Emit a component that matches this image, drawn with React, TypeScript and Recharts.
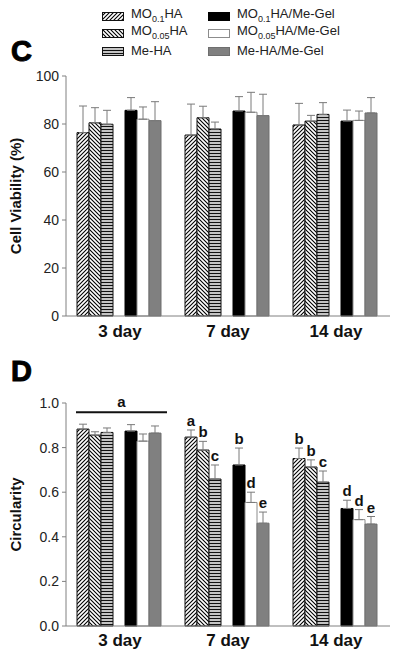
import React from "react";
import { BarChart, Bar, XAxis, YAxis, ErrorBar, LabelList } from "recharts";

// groups on the x axis
const days = ["3 day", "7 day", "14 day"];

// panel C - cell viability (%), mean and upper SD
const viabMo01Ha = [76.4, 75.4, 79.6];
const viabMo005Ha = [80.5, 82.6, 81.2];
const viabMeHa = [79.9, 77.9, 84.0];
const viabMo01Gel = [85.7, 85.4, 81.2];
const viabMo005Gel = [82.0, 84.9, 81.5];
const viabMeGel = [81.4, 83.5, 84.6];

const viabErrMo01Ha = [11.1, 12.9, 9.0];
const viabErrMo005Ha = [6.3, 4.8, 2.4];
const viabErrMeHa = [5.8, 2.9, 4.9];
const viabErrMo01Gel = [5.3, 6.0, 4.6];
const viabErrMo005Gel = [5.1, 8.3, 3.9];
const viabErrMeGel = [7.9, 8.9, 6.4];

// panel D - circularity
const circMo01Ha = [0.883, 0.847, 0.751];
const circMo005Ha = [0.856, 0.789, 0.713];
const circMeHa = [0.868, 0.659, 0.645];
const circMo01Gel = [0.874, 0.722, 0.527];
const circMo005Gel = [0.829, 0.554, 0.477];
const circMeGel = [0.865, 0.461, 0.457];

const circErrMo01Ha = [0.022, 0.032, 0.047];
const circErrMo005Ha = [0.015, 0.039, 0.032];
const circErrMeHa = [0.02, 0.063, 0.05];
const circErrMo01Gel = [0.029, 0.076, 0.037];
const circErrMo005Gel = [0.032, 0.046, 0.045];
const circErrMeGel = [0.032, 0.05, 0.034];

// significance letters
const letMo01Ha = ["", "a", "b"];
const letMo005Ha = ["", "b", "b"];
const letMeHa = ["", "c", "c"];
const letMo01Gel = ["", "b", "d"];
const letMo005Gel = ["", "d", "d"];
const letMeGel = ["", "e", "e"];

// one letter over the whole 3 day group, with a bar at this level
const sigGroup = "3 day";
const sigLetter = "a";
const sigY = 0.958;

const viabTicks = [0, 20, 40, 60, 80, 100];
const circTicks = [0, 0.2, 0.4, 0.6, 0.8, 1.0];

const keys = ["s1", "s2", "s3", "s4", "s5", "s6"];

const font = "Arial, 'Liberation Sans', sans-serif";
const axisGray = "#808080";

const seriesStyle = [
  { fill: "url(#hatchFwd)", stroke: "#111" },
  { fill: "url(#hatchBack)", stroke: "#111" },
  { fill: "url(#hatchHoriz)", stroke: "#111" },
  { fill: "#000", stroke: "#000" },
  { fill: "#fff", stroke: "#8c8c8c" },
  { fill: "#808080", stroke: "#6e6e6e" },
];

function buildRows(vals: number[][], errs: number[][], letters?: string[][]) {
  return days.map((day, i) => {
    const row: any = { day, gap: null };
    keys.forEach((k, j) => {
      row[k] = vals[j][i];
      row[k + "Err"] = [0, errs[j][i]];
      if (letters) {
        const l = letters[j][i];
        row[k + "Lbl"] = l ? `${l}|${errs[j][i] / vals[j][i]}` : "";
      }
    });
    if (letters) row.sig = day === sigGroup ? `${sigLetter}|${sigY / vals[0][i]}` : "";
    return row;
  });
}

const viabRows = buildRows(
  [viabMo01Ha, viabMo005Ha, viabMeHa, viabMo01Gel, viabMo005Gel, viabMeGel],
  [viabErrMo01Ha, viabErrMo005Ha, viabErrMeHa, viabErrMo01Gel, viabErrMo005Gel, viabErrMeGel]
);

const circRows = buildRows(
  [circMo01Ha, circMo005Ha, circMeHa, circMo01Gel, circMo005Gel, circMeGel],
  [circErrMo01Ha, circErrMo005Ha, circErrMeHa, circErrMo01Gel, circErrMo005Gel, circErrMeGel],
  [letMo01Ha, letMo005Ha, letMeHa, letMo01Gel, letMo005Gel, letMeGel]
);

function boxOf(props: any) {
  const vb = props.viewBox ?? {};
  return {
    x: vb.x ?? props.x,
    y: vb.y ?? props.y,
    w: vb.width ?? props.width,
    h: vb.height ?? props.height,
  };
}

const LetterLabel = (props: any) => {
  const { value } = props;
  if (!value) return null;
  const { x, y, w, h } = boxOf(props);
  const [txt, ratio] = String(value).split("|");
  const errPx = Number(ratio) * h;
  return (
    <text
      x={x + w / 2}
      y={y - errPx - 4}
      textAnchor="middle"
      fontFamily={font}
      fontWeight="bold"
      fontSize={15}
      fill="#111"
    >
      {txt}
    </text>
  );
};

// bar across the 7 slots of the group (6 bars + gap), drawn from the first bar
const GroupLabel = (props: any) => {
  const { value } = props;
  if (!value) return null;
  const { x, y, w, h } = boxOf(props);
  const [txt, ratio] = String(value).split("|");
  const lineY = y + h - Number(ratio) * h;
  const x1 = x - 1;
  const x2 = x + 7 * w + 6;
  return (
    <g>
      <line x1={x1} x2={x2} y1={lineY} y2={lineY} stroke="#111" strokeWidth={2} />
      <text
        x={(x1 + x2) / 2}
        y={lineY - 5}
        textAnchor="middle"
        fontFamily={font}
        fontWeight="bold"
        fontSize={15}
        fill="#111"
      >
        {txt}
      </text>
    </g>
  );
};

const axisTitle = (text: string) => (props: any) => {
  const vb = props.viewBox;
  const cx = 15;
  const cy = vb.y + vb.height / 2;
  return (
    <text
      x={cx}
      y={cy}
      transform={`rotate(-90 ${cx} ${cy})`}
      textAnchor="middle"
      dominantBaseline="central"
      fontFamily={font}
      fontWeight="bold"
      fontSize={15}
      fill="#111"
    >
      {text}
    </text>
  );
};

function renderBars(withLetters: boolean) {
  const bars: React.ReactNode[] = [];
  keys.forEach((k, j) => {
    if (j === 3) {
      bars.push(<Bar key="gap" dataKey="gap" fill="none" isAnimationActive={false} />);
    }
    bars.push(
      <Bar
        key={k}
        dataKey={k}
        fill={seriesStyle[j].fill}
        stroke={seriesStyle[j].stroke}
        strokeWidth={1}
        isAnimationActive={false}
      >
        <ErrorBar dataKey={k + "Err"} direction="y" width={4} stroke="#7a7a7a" strokeWidth={1} />
        {withLetters && <LabelList dataKey={k + "Lbl"} content={LetterLabel} />}
        {withLetters && j === 0 && <LabelList dataKey="sig" content={GroupLabel} />}
      </Bar>
    );
  });
  return bars;
}

const legendItems = [
  { col: 0, row: 0, j: 0, label: <>MO<sub style={{ fontSize: 9 }}>0.1</sub>HA</> },
  { col: 0, row: 1, j: 1, label: <>MO<sub style={{ fontSize: 9 }}>0.05</sub>HA</> },
  { col: 0, row: 2, j: 2, label: <>Me-HA</> },
  { col: 1, row: 0, j: 3, label: <>MO<sub style={{ fontSize: 9 }}>0.1</sub>HA/Me-Gel</> },
  { col: 1, row: 1, j: 4, label: <>MO<sub style={{ fontSize: 9 }}>0.05</sub>HA/Me-Gel</> },
  { col: 1, row: 2, j: 5, label: <>Me-HA/Me-Gel</> },
];

function Legend() {
  return (
    <>
      {legendItems.map((it) => {
        const left = it.col === 0 ? 102 : 208;
        const top = 10 + it.row * 17.5;
        return (
          <div
            key={it.j}
            style={{ position: "absolute", left, top, display: "flex", alignItems: "center", height: 12 }}
          >
            <svg width={22} height={9} style={{ display: "block" }}>
              <rect
                x={0.5}
                y={0.5}
                width={21}
                height={8}
                fill={seriesStyle[it.j].fill}
                stroke={seriesStyle[it.j].stroke}
              />
            </svg>
            <span
              style={{
                marginLeft: 7,
                fontFamily: font,
                fontSize: 13,
                color: "#222",
                lineHeight: "12px",
                whiteSpace: "nowrap",
              }}
            >
              {it.label}
            </span>
          </div>
        );
      })}
    </>
  );
}

export default function App() {
  return (
    <div
      style={{
        position: "absolute",
        left: 0,
        top: 0,
        width: 400,
        height: 656,
        background: "#fff",
        fontFamily: font,
        overflow: "hidden",
      }}
    >
      <svg width={0} height={0} style={{ position: "absolute" }}>
        <defs>
          <pattern id="hatchFwd" patternUnits="userSpaceOnUse" width={4} height={4}>
            <rect width={4} height={4} fill="#fff" />
            <path d="M-1,1 l2,-2 M0,4 l4,-4 M3,5 l2,-2" stroke="#000" strokeWidth={1.1} />
          </pattern>
          <pattern id="hatchBack" patternUnits="userSpaceOnUse" width={4} height={4}>
            <rect width={4} height={4} fill="#fff" />
            <path d="M-1,3 l2,2 M0,0 l4,4 M3,-1 l2,2" stroke="#000" strokeWidth={1.1} />
          </pattern>
          <pattern id="hatchHoriz" patternUnits="userSpaceOnUse" width={4} height={3}>
            <rect width={4} height={3} fill="#c4c4c4" />
            <rect width={4} height={1} fill="#111" />
          </pattern>
        </defs>
      </svg>

      <Legend />

      <div
        style={{
          position: "absolute",
          left: 11,
          top: 36,
          fontSize: 29,
          fontWeight: 900,
          lineHeight: "30px",
          WebkitTextStroke: "1px #000",
        }}
      >
        C
      </div>
      <div
        style={{
          position: "absolute",
          left: 11,
          top: 356,
          fontSize: 29,
          fontWeight: 900,
          lineHeight: "30px",
          WebkitTextStroke: "1px #000",
        }}
      >
        D
      </div>

      <div style={{ position: "absolute", left: 0, top: 0 }}>
        <BarChart
          width={400}
          height={345}
          data={viabRows}
          margin={{ top: 76, right: 10, bottom: 0, left: 0 }}
          barGap={0}
          barCategoryGap={11}
        >
          <XAxis
            dataKey="day"
            height={29}
            interval={0}
            axisLine={{ stroke: axisGray }}
            tickLine={false}
            tickMargin={3}
            tick={{ fontSize: 17, fontWeight: "bold", fill: "#111", fontFamily: font }}
          />
          <YAxis
            width={66}
            domain={[0, 100]}
            ticks={viabTicks}
            interval={0}
            axisLine={{ stroke: axisGray }}
            tickLine={{ stroke: axisGray }}
            tickSize={4}
            tickMargin={3}
            tick={{ fontSize: 14, fill: "#222", fontFamily: font }}
            label={axisTitle("Cell Viability (%)")}
          />
          {renderBars(false)}
        </BarChart>
      </div>

      <div style={{ position: "absolute", left: 0, top: 345 }}>
        <BarChart
          width={400}
          height={311}
          data={circRows}
          margin={{ top: 58, right: 10, bottom: 0, left: 0 }}
          barGap={0}
          barCategoryGap={11}
        >
          <XAxis
            dataKey="day"
            height={30}
            interval={0}
            axisLine={{ stroke: axisGray }}
            tickLine={false}
            tickMargin={2}
            tick={{ fontSize: 17, fontWeight: "bold", fill: "#111", fontFamily: font }}
          />
          <YAxis
            width={66}
            domain={[0, 1]}
            ticks={circTicks}
            interval={0}
            axisLine={{ stroke: axisGray }}
            tickLine={{ stroke: axisGray }}
            tickSize={4}
            tickMargin={3}
            tickFormatter={(v: number) => v.toFixed(1)}
            tick={{ fontSize: 14, fill: "#222", fontFamily: font }}
            label={axisTitle("Circularity")}
          />
          {renderBars(true)}
        </BarChart>
      </div>
    </div>
  );
}
